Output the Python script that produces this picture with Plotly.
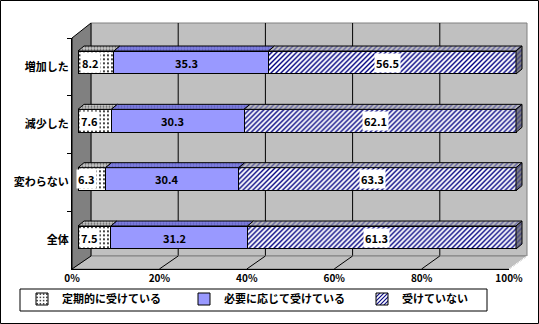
import plotly.graph_objects as go

W, H = 539, 324
def px(x): return x / W
def py(y): return 1 - y / H

categories = ["増加した", "減少した", "変わらない", "全体"]
series_names = ["定期的に受けている", "必要に応じて受けている", "受けていない"]
regular = [8.2, 7.6, 6.3, 7.5]
as_needed = [35.3, 30.3, 30.4, 31.2]
not_receiving = [56.5, 62.1, 63.3, 61.3]
tick_values = [0, 20, 40, 60, 80, 100]
tick_labels = ["0%", "20%", "40%", "60%", "80%", "100%"]

FONT = "Noto Sans CJK JP"
series = [regular, as_needed, not_receiving]
idx = list(range(len(categories)))

bar_styles = [
    dict(color="white", pattern=dict(shape=".", fgcolor="black", bgcolor="white", size=4, solidity=0.18, fillmode="replace")),
    dict(color="#9999FF"),
    dict(color="white", pattern=dict(shape="/", fgcolor="#000080", bgcolor="white", size=3.5, solidity=0.4, fillmode="replace")),
]
top_styles = [
    dict(shape=".", fgcolor="black", bgcolor="#C8C8C8", size=3, solidity=0.3),
    dict(shape=".", fgcolor="#4040A0", bgcolor="#8080E0", size=3, solidity=0.3),
    dict(shape="/", fgcolor="#000080", bgcolor="#C0C0C0", size=3.5, solidity=0.4),
]
end_style = dict(shape="/", fgcolor="#000080", bgcolor="#808080", size=3.5, solidity=0.4)

BW = 0.394          # bar thickness (category units)
DX = 6 / 4.38       # depth offset in % units
DY = 5 / 58.33      # depth offset in category units

fig = go.Figure()
legends = ["legend", "legend2", "legend3"]
for j, (name, vals) in enumerate(zip(series_names, series)):
    fig.add_trace(go.Bar(
        y=idx, x=vals, orientation="h", name=name, width=BW,
        marker=dict(line=dict(color="black", width=1), **bar_styles[j]),
        legend=legends[j], hoverinfo="skip",
    ))

annotations = []
for i in idx:
    start = 0.0
    top = i - BW / 2
    bot = i + BW / 2
    for j, vals in enumerate(series):
        v = vals[i]
        x0, x1 = start, start + v
        fig.add_trace(go.Scatter(
            x=[x0, x1, x1 + DX, x0 + DX, x0], y=[top, top, top - DY, top - DY, top],
            mode="lines", fill="toself", fillcolor=top_styles[j]["bgcolor"],
            fillpattern=top_styles[j], line=dict(color="black", width=1),
            showlegend=False, hoverinfo="skip",
        ))
        annotations.append(dict(
            x=(x0 + x1) / 2, y=i, xref="x", yref="y", text=f"{v:.1f}", showarrow=False,
            xshift=-5, font=dict(family=FONT, size=11, color="black", weight="bold"),
            bgcolor="white" if j != 1 else None, borderpad=1,
        ))
        start = x1
    fig.add_trace(go.Scatter(
        x=[start, start + DX, start + DX, start, start], y=[top, top - DY, bot - DY, bot, top],
        mode="lines", fill="toself", fillcolor=end_style["bgcolor"], fillpattern=end_style,
        line=dict(color="black", width=1), showlegend=False, hoverinfo="skip",
    ))

# front axes (category labels and % tick labels)
fig.add_trace(go.Scatter(x=[0] * 4, y=categories, xaxis="x2", yaxis="y2", mode="markers",
                         marker=dict(opacity=0), showlegend=False, hoverinfo="skip"))
# back wall axes
fig.add_trace(go.Scatter(x=[0], y=[0], xaxis="x3", yaxis="y3", mode="markers",
                         marker=dict(opacity=0), showlegend=False, hoverinfo="skip"))

shapes = []
# back wall
shapes.append(dict(type="rect", xref="paper", yref="paper", x0=px(91), x1=px(527), y0=py(256), y1=py(23),
                   fillcolor="#C0C0C0", line=dict(color="#808080", width=1), layer="below"))
# back wall gridlines at tick values
for t in tick_values[1:-1]:
    shapes.append(dict(type="line", xref="x3", yref="y3 domain", x0=t, x1=t, y0=0, y1=1,
                       line=dict(color="black", width=1), layer="below"))
# floor
shapes.append(dict(type="path", xref="paper", yref="paper",
                   path=f"M{px(72)},{py(269)} L{px(91)},{py(256)} L{px(527)},{py(256)} L{px(509)},{py(269)} Z",
                   fillcolor="#C0C0C0", line=dict(color="#808080", width=1), layer="below"))
# left wall
shapes.append(dict(type="path", xref="paper", yref="paper",
                   path=f"M{px(72)},{py(38)} L{px(91)},{py(23)} L{px(91)},{py(256)} L{px(72)},{py(269)} Z",
                   fillcolor="#808080", line=dict(color="black", width=1), layer="below"))
# floor diagonals from tick values
for t in tick_values[1:]:
    fx = 72 + (509 - 72) * t / 100
    bx = 91 + (527 - 91) * t / 100
    shapes.append(dict(type="line", xref="paper", yref="paper", x0=px(fx), y0=py(269), x1=px(bx), y1=py(256),
                       line=dict(color="black" if t < 100 else "white", width=1), layer="below"))
# legend box
shapes.append(dict(type="rect", xref="paper", yref="paper", x0=px(20), x1=px(487), y0=py(311), y1=py(289),
                   fillcolor="white", line=dict(color="black", width=1), layer="below"))
# outer border
shapes.append(dict(type="rect", xref="paper", yref="paper", x0=px(0.5), x1=px(538.5), y0=py(323.5), y1=py(0.5),
                   line=dict(color="black", width=1), layer="above"))

lfont = dict(family=FONT, size=11, color="black", weight="bold")
def leg(x):
    return dict(x=px(x), y=py(299), xanchor="left", yanchor="middle", orientation="h",
                bgcolor="rgba(0,0,0,0)", borderwidth=0, font=lfont)

fig.update_layout(
    width=W, height=H, margin=dict(l=0, r=0, t=0, b=0, autoexpand=False),
    paper_bgcolor="white", plot_bgcolor="rgba(0,0,0,0)",
    barmode="stack", showlegend=True,
    xaxis=dict(domain=[px(78), px(78 + 438 * 1.03)], range=[0, 103], visible=False),
    yaxis=dict(domain=[py(266.67), py(33.33)], range=[3.5, -0.5], visible=False),
    xaxis2=dict(domain=[px(72), px(509)], range=[0, 100], anchor="y2",
                tickmode="array", tickvals=tick_values, ticktext=tick_labels,
                showgrid=False, zeroline=False,
                showline=True, linecolor="black", linewidth=1, ticks="",
                tickfont=dict(family=FONT, size=10, color="black", weight="bold")),
    yaxis2=dict(domain=[py(269), py(38)], anchor="x2", type="category", categoryorder="array",
                categoryarray=categories, range=[3.5, -0.5], showgrid=False, zeroline=False,
                showline=True, linecolor="black", linewidth=1, ticks="outside", ticklen=4,
                tickcolor="black", tickson="boundaries",
                tickfont=dict(family=FONT, size=11, color="black", weight="bold")),
    xaxis3=dict(domain=[px(91), px(527)], range=[0, 100], anchor="y3",
                showgrid=False, showticklabels=False, ticks="", zeroline=False, showline=False),
    yaxis3=dict(domain=[py(256), py(23)], range=[0, 1], anchor="x3", showgrid=False,
                showticklabels=False, ticks="", zeroline=False, showline=False),
    legend=leg(22), legend2=leg(184), legend3=leg(362),
    shapes=shapes, annotations=annotations,
)

fig.write_html("out.html")
